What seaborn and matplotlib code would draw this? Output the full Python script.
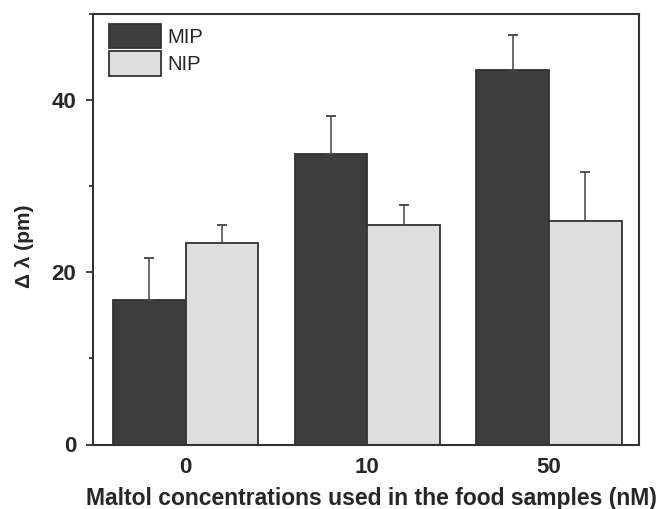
import matplotlib
matplotlib.use("Agg")
import matplotlib.pyplot as plt
import seaborn as sns
import pandas as pd
import numpy as np
from matplotlib.ticker import MultipleLocator

categories = ["0", "10", "50"]
series = ["MIP", "NIP"]
mip_values = [16.8, 33.7, 43.5]
nip_values = [23.4, 25.5, 26.0]
mip_errors = [4.9, 4.5, 4.1]
nip_errors = [2.1, 2.3, 5.7]

df = pd.DataFrame({
    "conc": categories * 2,
    "type": ["MIP"] * 3 + ["NIP"] * 3,
    "value": mip_values + nip_values,
})

sns.set_theme(style="ticks")
plt.rcParams["font.family"] = ["Liberation Sans", "DejaVu Sans"]

W, H = 659, 509
L, R, T, B = 93, 638.5, 14, 444.5
fig = plt.figure(figsize=(W / 100, H / 100), dpi=100)
ax = fig.add_axes([L / W, 1 - B / H, (R - L) / W, (B - T) / H])

palette = {"MIP": "#3d3d3d", "NIP": "#dedede"}
sns.barplot(data=df, x="conc", y="value", hue="type", order=categories,
            hue_order=series, palette=palette, width=0.8, errorbar=None,
            edgecolor="#333333", linewidth=1.3, saturation=1, ax=ax)

# error bars (upper only)
errs = {"MIP": mip_errors, "NIP": nip_errors}
vals = {"MIP": mip_values, "NIP": nip_values}
for container, name in zip(ax.containers, series):
    xs = [p.get_x() + p.get_width() / 2 for p in container.patches]
    ax.errorbar(xs, vals[name], yerr=[np.zeros(3), errs[name]], fmt="none",
                ecolor="#444444", elinewidth=1.1, capsize=3.5, capthick=1.3, zorder=1)

ax.set_ylim(0, 50)
ax.set_xlim(-0.51, 2.492)
ax.yaxis.set_major_locator(MultipleLocator(20))
ax.yaxis.set_minor_locator(MultipleLocator(10))
ax.tick_params(axis="y", which="major", direction="out", length=5, width=1.3,
               labelsize=16, color="#333333", pad=7)
ax.tick_params(axis="y", which="minor", direction="out", length=3, width=1.3, color="#333333")
ax.tick_params(axis="x", length=0, labelsize=16, pad=9)
for lab in ax.get_xticklabels() + ax.get_yticklabels():
    lab.set_fontweight("bold")

ax.set_xlabel("Maltol concentrations used in the food samples (nM)", fontsize=16.5,
              fontweight="bold")
ax.xaxis.set_label_coords((371 - L) / (R - L), -(504.5 - B) / (B - T))
ax.xaxis.label.set_verticalalignment("baseline")
ax.set_ylabel("Δ λ (pm)", fontsize=15, fontweight="bold")
ax.yaxis.set_label_coords(-(L - 34) / (R - L), (B - 246) / (B - T))

for s in ax.spines.values():
    s.set_linewidth(1.5)
    s.set_color("#333333")

fs = 14.5
px = fs * 100 / 72
leg = ax.legend(loc="upper left", frameon=False, fontsize=fs,
                handlelength=52 / px, handleheight=30 / px, handletextpad=6 / px,
                labelspacing=0.15, borderaxespad=0, borderpad=0,
                bbox_to_anchor=(16 / (R - L), 1 - 10 / (B - T)))

fig.savefig("out.png", dpi=100)
